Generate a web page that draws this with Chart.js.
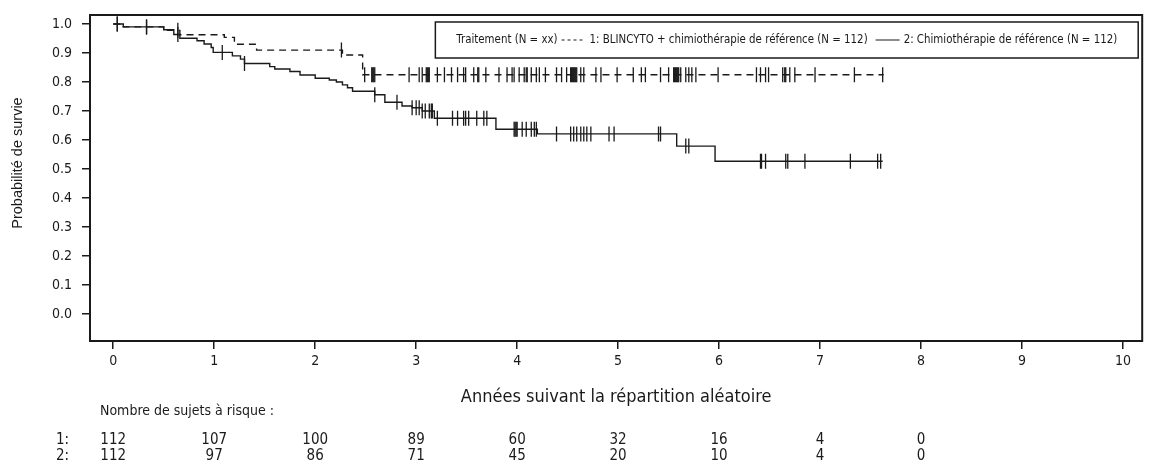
<!DOCTYPE html>
<html>
<head>
<meta charset="utf-8">
<script src="https://cdn.jsdelivr.net/npm/chart.js@4/dist/chart.umd.min.js"></script>
<style>
html, body { margin: 0; padding: 0; background: #fff; }
</style>
</head>
<body>
<canvas id="km" width="1151" height="469"></canvas>
<script>
'use strict';

const NARROW = "'Liberation Sans Narrow', 'DejaVu Sans Condensed', 'Liberation Sans', sans-serif";
const WIDE = "'Liberation Sans', Arial, sans-serif";
const INK = '#1a1a1a';

//Kaplan-Meier steps: time (years) of each drop and the survival after it
const arm1Times = [0, 0.10, 0.50, 0.66, 1.10, 1.20, 1.42, 2.27, 2.47, 7.63];
const arm1Surv  = [1.0, 0.99, 0.978, 0.963, 0.954, 0.93, 0.91, 0.893, 0.825, 0.825];
const arm2Times = [0, 0.10, 0.50, 0.60, 0.66, 0.83, 0.90, 0.97, 0.99, 1.18, 1.26, 1.30, 1.55, 1.60,
	1.75, 1.85, 2.00, 2.14, 2.21, 2.27, 2.32, 2.37, 2.59, 2.69, 2.86, 2.96, 3.06, 3.18, 3.79, 4.20,
	5.58, 5.96, 7.62];
const arm2Surv  = [1.0, 0.99, 0.98, 0.964, 0.951, 0.942, 0.931, 0.919, 0.902, 0.89, 0.879, 0.864, 0.853, 0.845,
	0.836, 0.824, 0.813, 0.807, 0.80, 0.79, 0.78, 0.768, 0.756, 0.73, 0.717, 0.711, 0.70, 0.675, 0.637, 0.621,
	0.579, 0.527, 0.527];

//censored subjects (years)
const arm1Censor = [0.04, 0.33, 0.64, 2.26, 2.49, 2.56, 2.57, 2.58, 2.59, 2.93, 3.03, 3.06, 3.10, 3.11, 3.12,
	3.13, 3.21, 3.28, 3.35, 3.41, 3.47, 3.49, 3.57, 3.61, 3.62, 3.69, 3.82, 3.90, 3.95, 3.97, 4.02, 4.07,
	4.09, 4.10, 4.14, 4.19, 4.22, 4.28, 4.39, 4.44, 4.49, 4.53, 4.54, 4.55, 4.56, 4.57, 4.58, 4.59, 4.63,
	4.66, 4.78, 4.83, 4.99, 5.15, 5.23, 5.27, 5.42, 5.50, 5.55, 5.56, 5.57, 5.58, 5.59, 5.60, 5.62, 5.67,
	5.70, 5.73, 5.77, 5.99, 6.37, 6.41, 6.46, 6.49, 6.63, 6.65, 6.66, 6.70, 6.75, 6.95, 7.34, 7.62];
const arm2Censor = [0.04, 0.33, 0.64, 1.08, 1.30, 2.59, 2.81, 2.96, 3.00, 3.03, 3.06, 3.09, 3.13, 3.15, 3.16,
	3.21, 3.36, 3.41, 3.47, 3.49, 3.52, 3.60, 3.67, 3.70, 3.97, 3.98, 3.99, 4.00, 4.05, 4.09, 4.14, 4.17,
	4.19, 4.39, 4.53, 4.56, 4.59, 4.63, 4.66, 4.69, 4.73, 4.91, 4.96, 5.40, 5.42, 5.67, 5.70, 6.41, 6.42,
	6.46, 6.66, 6.68, 6.85, 7.30, 7.57, 7.60];

const xTicks = [0, 1, 2, 3, 4, 5, 6, 7, 8, 9, 10];
const yTicks = [0, 0.1, 0.2, 0.3, 0.4, 0.5, 0.6, 0.7, 0.8, 0.9, 1.0];

//numbers at risk
const riskTimes = [0, 1, 2, 3, 4, 5, 6, 7, 8];
const risk1 = [112, 107, 100, 89, 60, 32, 16, 4, 0];
const risk2 = [112, 97, 86, 71, 45, 20, 10, 4, 0];

const legendTitle = 'Traitement (N = xx)';
const arm1Label = '1: BLINCYTO + chimiothérapie de référence (N = 112)';
const arm2Label = '2: Chimiothérapie de référence (N = 112)';
const yTitle = 'Probabilité de survie';

/** Survival of a step curve at given time. */
function survivalAt(times, surv, t) {
	let s = surv[0];
	for (let idx = 0; idx < times.length; ++idx) {
		if (times[idx] <= t) {
			s = surv[idx];
		}
	}
	return s;
}

function stepPoints(times, surv) {
	return times.map((t, idx) => ({x: t, y: surv[idx]}));
}

function censorPoints(times, surv, censor) {
	return censor.map(t => ({x: t, y: survivalAt(times, surv, t)}));
}

const decor = {
	id: 'kmDecor',
	afterDraw: chart => {
		const {ctx, chartArea: a} = chart;
		const xs = chart.scales.x, ys = chart.scales.y;
		ctx.save();

		//frame round the plot
		ctx.strokeStyle = INK;
		ctx.lineWidth = 2;
		ctx.strokeRect(a.left, a.top, a.right - a.left, a.bottom - a.top);

		//y title, centred on the 0..1 range
		ctx.fillStyle = INK;
		ctx.textBaseline = 'middle';
		ctx.textAlign = 'center';
		ctx.font = `14.5px ${WIDE}`;
		ctx.save();
		ctx.translate(18, (ys.getPixelForValue(0) + ys.getPixelForValue(1)) / 2 - 6);
		ctx.rotate(-Math.PI / 2);
		ctx.fillText(yTitle, 0, 0);
		ctx.restore();

		//legend box
		ctx.font = `11.4px ${NARROW}`;
		ctx.textAlign = 'left';
		const sample = 24, gap = 4, pad = 21;
		const w0 = ctx.measureText(legendTitle).width;
		const w1 = ctx.measureText(arm1Label).width;
		const w2 = ctx.measureText(arm2Label).width;
		const total = w0 + gap + sample + gap + w1 + 2 * gap + sample + gap + w2;
		const boxRight = a.right - 4, boxTop = a.top + 7, boxH = 36;
		const boxLeft = boxRight - total - 2 * pad;
		ctx.lineWidth = 1.5;
		ctx.strokeRect(boxLeft, boxTop, boxRight - boxLeft, boxH);
		const cy = boxTop + boxH / 2;
		let cx = boxLeft + pad;
		ctx.fillText(legendTitle, cx, cy);
		cx += w0 + gap;
		ctx.lineWidth = 1;
		ctx.setLineDash([3, 3]);
		ctx.beginPath();
		ctx.moveTo(cx, cy);
		ctx.lineTo(cx + sample, cy);
		ctx.stroke();
		cx += sample + gap;
		ctx.fillText(arm1Label, cx, cy);
		cx += w1 + 2 * gap;
		ctx.setLineDash([]);
		ctx.beginPath();
		ctx.moveTo(cx, cy);
		ctx.lineTo(cx + sample, cy);
		ctx.stroke();
		cx += sample + gap;
		ctx.fillText(arm2Label, cx, cy);

		//numbers at risk table
		ctx.font = `14px ${NARROW}`;
		ctx.fillText('Nombre de sujets à risque :', 100, 411);
		ctx.font = `15px ${NARROW}`;
		ctx.fillText('1:', 56, 440);
		ctx.fillText('2:', 56, 456);
		ctx.textAlign = 'center';
		riskTimes.forEach((t, idx) => {
			const px = xs.getPixelForValue(t);
			ctx.fillText(String(risk1[idx]), px, 440);
			ctx.fillText(String(risk2[idx]), px, 456);
		});
		ctx.restore();
	}
};

const axisGrid = {
	drawOnChartArea: false,
	drawTicks: true,
	tickLength: 8,
	color: INK,
	lineWidth: 1.5
};

new Chart(document.getElementById('km'), {
	type: 'scatter',
	data: {
		datasets: [
			{
				label: arm1Label,
				data: stepPoints(arm1Times, arm1Surv),
				showLine: true,
				stepped: 'before',
				borderColor: INK,
				borderWidth: 1.4,
				borderDash: [7, 5],
				pointRadius: 0
			},
			{
				label: arm2Label,
				data: stepPoints(arm2Times, arm2Surv),
				showLine: true,
				stepped: 'before',
				borderColor: INK,
				borderWidth: 1.4,
				pointRadius: 0
			},
			{
				label: 'censor1',
				data: censorPoints(arm1Times, arm1Surv, arm1Censor),
				pointStyle: 'line',
				rotation: 90,
				pointRadius: 7.5,
				borderColor: INK,
				borderWidth: 1.3
			},
			{
				label: 'censor2',
				data: censorPoints(arm2Times, arm2Surv, arm2Censor),
				pointStyle: 'line',
				rotation: 90,
				pointRadius: 7.5,
				borderColor: INK,
				borderWidth: 1.3
			}
		]
	},
	options: {
		responsive: false,
		animation: false,
		layout: {
			padding: {top: 15, right: 6, bottom: 61, left: 0}
		},
		plugins: {
			legend: {display: false},
			tooltip: {enabled: false}
		},
		scales: {
			x: {
				type: 'linear',
				min: -0.23,
				max: 10.19,
				afterBuildTicks: s => { s.ticks = xTicks.map(v => ({value: v})); },
				afterFit: s => { s.height = 67; s.paddingLeft = 0; s.paddingRight = 0; },
				border: {display: false},
				grid: axisGrid,
				ticks: {
					color: INK,
					font: {family: NARROW, size: 14},
					padding: 4,
					maxRotation: 0,
					callback: v => String(v)
				},
				title: {
					display: true,
					text: 'Années suivant la répartition aléatoire',
					color: INK,
					font: {family: NARROW, size: 18},
					padding: {top: 0, bottom: 0}
				}
			},
			y: {
				type: 'linear',
				min: -0.093,
				max: 1.031,
				afterBuildTicks: s => { s.ticks = yTicks.map(v => ({value: v})); },
				afterFit: s => { s.width = 90; s.paddingTop = 0; s.paddingBottom = 0; },
				border: {display: false},
				grid: axisGrid,
				ticks: {
					color: INK,
					font: {family: NARROW, size: 14},
					padding: 10,
					callback: v => v.toFixed(1)
				}
			}
		}
	},
	plugins: [decor]
});
</script>
</body>
</html>
